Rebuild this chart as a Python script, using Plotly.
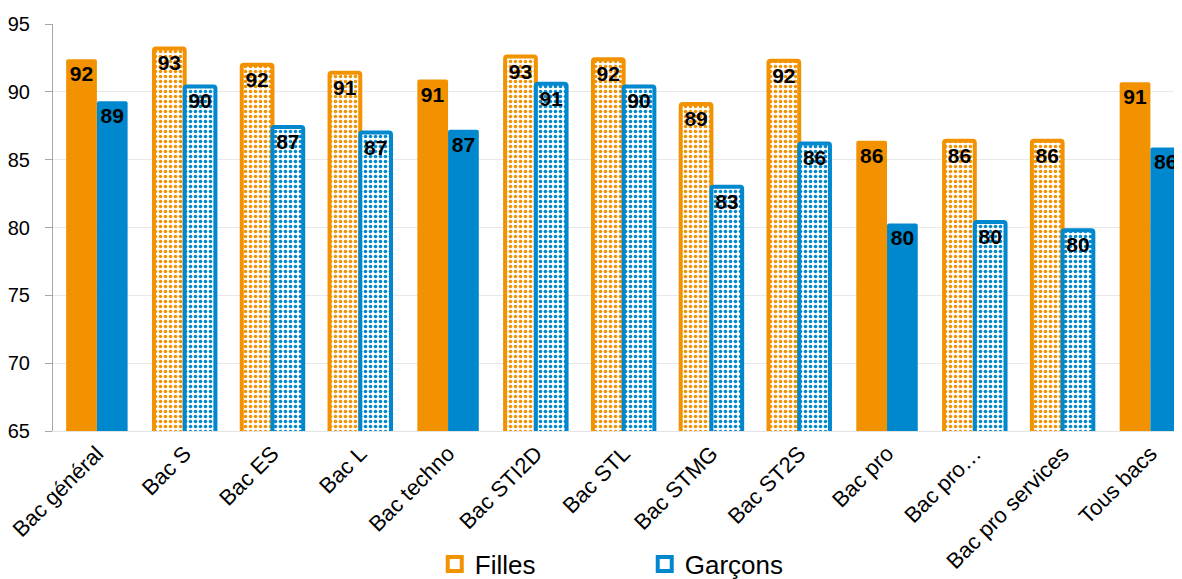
import plotly.graph_objects as go

categories = ["Bac général", "Bac S", "Bac ES", "Bac L", "Bac techno", "Bac STI2D", "Bac STL",
              "Bac STMG", "Bac ST2S", "Bac pro", "Bac pro…", "Bac pro services", "Tous bacs"]
filles = [92.4, 93.2, 92.0, 91.4, 90.9, 92.6, 92.4, 89.1, 92.3, 86.4, 86.4, 86.4, 90.7]
garcons = [89.3, 90.4, 87.4, 87.0, 87.2, 90.6, 90.4, 83.0, 86.2, 80.3, 80.4, 79.8, 85.9]
# sous-totaux (general, techno, pro, total) en plein, detail en pointille
patterned = [False, True, True, True, False, True, True, True, True, False, True, True, False]

orange = "#F39200"
blue = "#0088CE"
font = "Liberation Sans, Arial, sans-serif"

fig = go.Figure()

for name, vals, col, off in [("Filles", filles, orange, -0.35), ("Garçons", garcons, blue, 0.0)]:
    solid_y = [None if p else v for v, p in zip(vals, patterned)]
    dotted_y = [v if p else None for v, p in zip(vals, patterned)]
    common = dict(x=categories, width=0.35, offset=off, showlegend=False,
                  texttemplate="%{y:.0f}", textposition="inside", insidetextanchor="end",
                  textangle=0, cliponaxis=True,
                  textfont=dict(family=font, size=21, color="black", weight="bold"))
    fig.add_trace(go.Bar(y=solid_y, name=name,
                         marker=dict(color=col, line=dict(width=0), cornerradius=2), **common))
    fig.add_trace(go.Bar(y=dotted_y, name=name,
                         marker=dict(color=col, line=dict(color=col, width=4), cornerradius=2,
                                     pattern=dict(shape=".", fillmode="replace", bgcolor="white",
                                                  fgcolor=col, size=5, solidity=0.4)),
                         **common))
    # legend swatch: white square with coloured border
    fig.add_trace(go.Scatter(
        x=[None], y=[None], mode="markers", name=name,
        marker=dict(symbol="square", size=14, color="white", line=dict(color=col, width=4)),
    ))

fig.update_layout(
    width=1174, height=571,
    margin=dict(l=45, r=0, t=16, b=148, autoexpand=False),
    plot_bgcolor="white", paper_bgcolor="white",
    barmode="overlay",
    font=dict(family=font, size=18, color="black"),
    legend=dict(orientation="h", xref="container", x=0.3635, xanchor="left",
                yref="container", y=0.026, yanchor="middle",
                font=dict(size=26), itemwidth=30, tracegroupgap=0,
                entrywidthmode="pixels", entrywidth=165),
)
fig.update_xaxes(range=[-0.5, 12.36], tickangle=-45, tickfont=dict(size=22),
                 showline=True, linecolor="#e3e3e3", ticks="", automargin=False)
fig.update_yaxes(range=[65, 95], dtick=5, tickfont=dict(size=20),
                 showgrid=True, gridcolor="#e9e9e9", zeroline=False,
                 showline=True, linecolor="#a6a6a6", ticks="outside", ticklen=7,
                 tickcolor="#a6a6a6", ticklabelstandoff=11, automargin=False)

fig.write_html("out.html")
